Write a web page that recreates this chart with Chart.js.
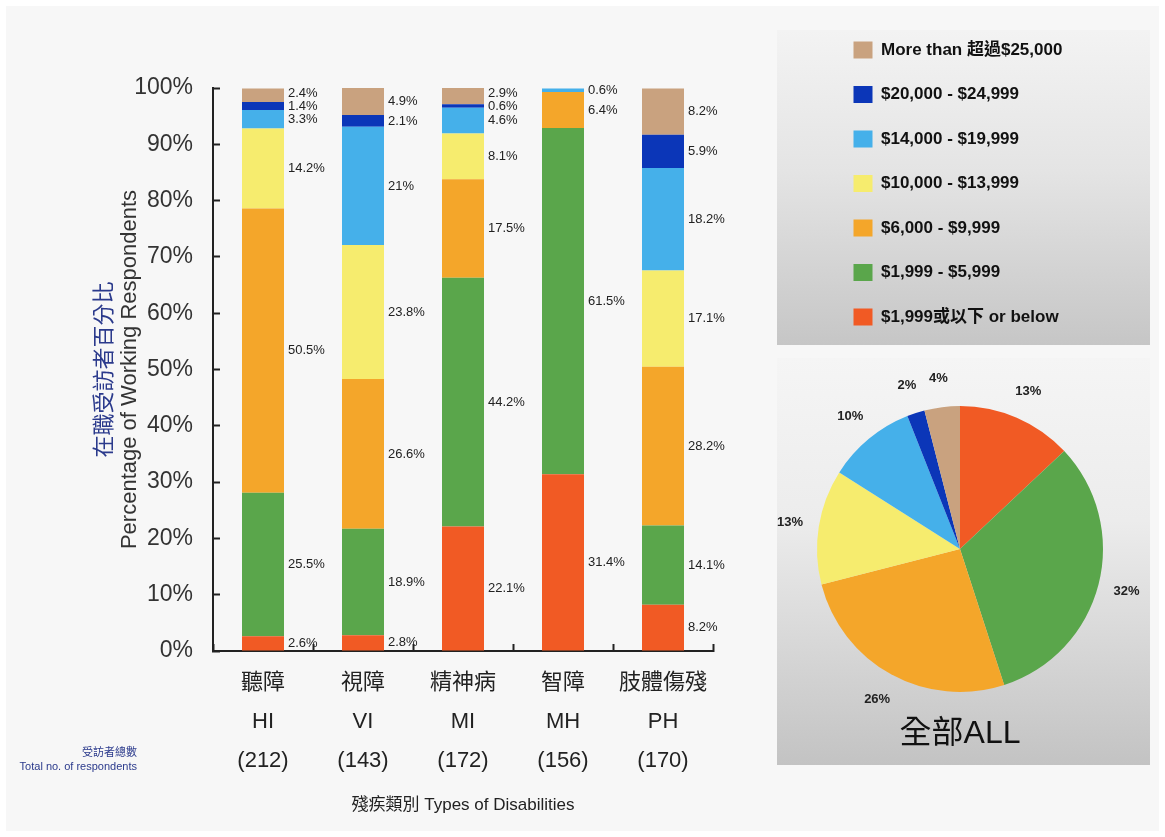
<!DOCTYPE html>
<html>
<head>
<meta charset="utf-8">
<script src="https://cdn.jsdelivr.net/npm/chart.js@4.4.1/dist/chart.umd.min.js"></script>
<style>
  html, body { margin: 0; padding: 0; background: #ffffff; }
  body { width: 1165px; height: 837px; position: relative; overflow: hidden; }
  #bg { position: absolute; left: 6px; top: 6px; width: 1153px; height: 825px; background: #f7f7f7; }
  .panel { position: absolute; left: 777px; width: 373px; }
  #legendPanel { top: 30px; height: 315px; background: linear-gradient(180deg, #f3f3f3 0%, #e4e4e4 45%, #c6c6c6 100%); }
  #piePanel { top: 358px; height: 407px; background: linear-gradient(180deg, #f5f5f5 0%, #ececec 40%, #c3c3c3 100%); }
  #barWrap { position: absolute; left: 0; top: 0; width: 777px; height: 837px; }
  #pieWrap { position: absolute; left: 777px; top: 0; width: 373px; height: 837px; }
  canvas { display: block; }
</style>
</head>
<body>
<div id="bg"></div>
<div id="legendPanel" class="panel"></div>
<div id="piePanel" class="panel"></div>
<div id="barWrap"><canvas id="bar" width="777" height="837"></canvas></div>
<div id="pieWrap"><canvas id="pie" width="373" height="837"></canvas></div>
<script>
// ---------- data ----------
const categoriesZh = ['聽障', '視障', '精神病', '智障', '肢體傷殘'];
const categoriesEn = ['HI', 'VI', 'MI', 'MH', 'PH'];
const respondents = [212, 143, 172, 156, 170];
const incomeBands = [
  '$1,999或以下 or below',
  '$1,999 - $5,999',
  '$6,000 - $9,999',
  '$10,000 - $13,999',
  '$14,000 - $19,999',
  '$20,000 - $24,999',
  'More than 超過$25,000'
];
const below1999   = [2.6, 2.8, 22.1, 31.4, 8.2];
const r1999_5999  = [25.5, 18.9, 44.2, 61.5, 14.1];
const r6000_9999  = [50.5, 26.6, 17.5, 6.4, 28.2];
const r10000_13999 = [14.2, 23.8, 8.1, 0, 17.1];
const r14000_19999 = [3.3, 21, 4.6, 0.6, 18.2];
const r20000_24999 = [1.4, 2.1, 0.6, 0, 5.9];
const over25000   = [2.4, 4.9, 2.9, 0, 8.2];
const allShares   = [13, 32, 26, 13, 10, 2, 4];
const yTickValues = [0, 10, 20, 30, 40, 50, 60, 70, 80, 90, 100];

const bandColors = ['#f15a24', '#5aa64b', '#f4a62a', '#f6ec6e', '#45b0ea', '#0b36b8', '#c9a27f'];
const FONT = "'Liberation Sans', Arial, 'Noto Sans CJK TC', sans-serif";

const seriesList = [below1999, r1999_5999, r6000_9999, r10000_13999, r14000_19999, r20000_24999, over25000];

// ---------- plugins ----------
const barValueLabels = {
  id: 'barValueLabels',
  afterDatasetsDraw(chart) {
    const ctx = chart.ctx;
    ctx.save();
    ctx.font = '13px ' + FONT;
    ctx.fillStyle = '#222';
    ctx.textBaseline = 'middle';
    ctx.textAlign = 'left';
    const n = chart.data.labels.length;
    for (let j = 0; j < n; j++) {
      const items = [];
      chart.data.datasets.forEach((ds, i) => {
        const v = ds.data[j];
        if (!v) return;
        const el = chart.getDatasetMeta(i).data[j];
        items.push({ text: v + '%', x: el.x + el.width / 2 + 4, y: (el.y + el.base) / 2 });
      });
      for (let k = 1; k < items.length; k++) {
        if (items[k].y > items[k - 1].y - 13) items[k].y = items[k - 1].y - 13;
      }
      items.forEach(it => ctx.fillText(it.text, it.x, it.y));
    }
    ctx.restore();
  }
};

const respondentsNote = {
  id: 'respondentsNote',
  afterDraw(chart) {
    const ctx = chart.ctx;
    const xs = chart.scales.x;
    const baseY = xs.top + 110;
    ctx.save();
    ctx.fillStyle = '#2b3a8c';
    ctx.textAlign = 'right';
    ctx.textBaseline = 'middle';
    ctx.font = '11px ' + FONT;
    ctx.fillText('受訪者總數', 137, baseY - 8);
    ctx.fillText('Total no. of respondents', 137, baseY + 6);
    ctx.restore();
  }
};

const pieLabels = {
  id: 'pieLabels',
  afterDatasetsDraw(chart) {
    const ctx = chart.ctx;
    const meta = chart.getDatasetMeta(0);
    const values = chart.data.datasets[0].data;
    ctx.save();
    ctx.fillStyle = '#222';
    ctx.textAlign = 'center';
    ctx.textBaseline = 'middle';
    ctx.font = 'bold 13px ' + FONT;
    meta.data.forEach((arc, i) => {
      const a = (arc.startAngle + arc.endAngle) / 2;
      const r = arc.outerRadius + 29;
      ctx.fillText(values[i] + '%', arc.x + Math.cos(a) * r, arc.y + Math.sin(a) * r);
    });
    const a0 = meta.data[0];
    ctx.fillStyle = '#111';
    ctx.font = '32px ' + FONT;
    ctx.fillText('全部ALL', a0.x, a0.y + a0.outerRadius + 42);
    ctx.restore();
  }
};

// ---------- bar chart ----------
new Chart(document.getElementById('bar'), {
  type: 'bar',
  data: {
    labels: categoriesZh.map((c, i) => [c, categoriesEn[i], '(' + respondents[i] + ')']),
    datasets: seriesList.map((s, i) => ({
      label: incomeBands[i],
      data: s,
      backgroundColor: bandColors[i],
      borderWidth: 0,
      barPercentage: 0.42,
      categoryPercentage: 1
    }))
  },
  options: {
    responsive: false,
    animation: false,
    devicePixelRatio: 1,
    layout: { padding: { top: 88, right: 64, left: 0, bottom: 0 } },
    plugins: { legend: { display: false }, tooltip: { enabled: false } },
    scales: {
      x: {
        stacked: true,
        grid: { offset: true, drawOnChartArea: false, drawTicks: true, tickLength: -7, tickColor: '#222', tickWidth: 2 },
        border: { color: '#222', width: 2 },
        ticks: { color: '#222', font: { size: 22, lineHeight: 1.77, family: FONT }, padding: 19.5, maxRotation: 0, autoSkip: false },
        title: { display: true, text: '殘疾類別 Types of Disabilities', color: '#222', font: { size: 17, family: FONT }, padding: { top: 0, bottom: 21 } },
        afterFit: s => { s.height = 186; }
      },
      y: {
        stacked: true,
        min: 0,
        max: 100,
        afterBuildTicks: s => { s.ticks = yTickValues.map(v => ({ value: v })); },
        ticks: { callback: v => v + '%', color: '#333', font: { size: 23, family: FONT }, padding: 27 },
        grid: { drawOnChartArea: false, drawTicks: true, tickLength: -7, tickColor: '#222', tickWidth: 2 },
        border: { color: '#222', width: 2 },
        title: { display: true, text: 'Percentage of Working Respondents', color: '#333', font: { size: 22, family: FONT }, padding: { top: -1, bottom: 0 } },
        afterFit: s => { s.width = 95; }
      },
      y2: {
        type: 'linear',
        position: 'left',
        weight: 10,
        ticks: { display: false },
        grid: { display: false },
        border: { display: false },
        title: { display: true, text: '在職受訪者百分比', color: '#2b3a8c', font: { size: 22, family: FONT }, padding: { top: 92, bottom: 0 } },
        afterFit: s => { s.width = 118; }
      }
    }
  },
  plugins: [barValueLabels, respondentsNote]
});

// ---------- pie chart with legend ----------
new Chart(document.getElementById('pie'), {
  type: 'pie',
  data: {
    labels: incomeBands,
    datasets: [{ data: allShares, backgroundColor: bandColors, borderWidth: 0, radius: 143, clip: false }]
  },
  options: {
    responsive: false,
    animation: false,
    devicePixelRatio: 1,
    layout: { padding: { top: 14, left: 49, right: 56, bottom: 74.5 } },
    plugins: {
      tooltip: { enabled: false },
      legend: {
        position: 'top',
        align: 'start',
        reverse: true,
        labels: { boxWidth: 19, boxHeight: 17, padding: 27.5, color: '#111', font: { size: 17, weight: 'bold', family: FONT } }
      }
    }
  },
  plugins: [pieLabels]
});
</script>
</body>
</html>
